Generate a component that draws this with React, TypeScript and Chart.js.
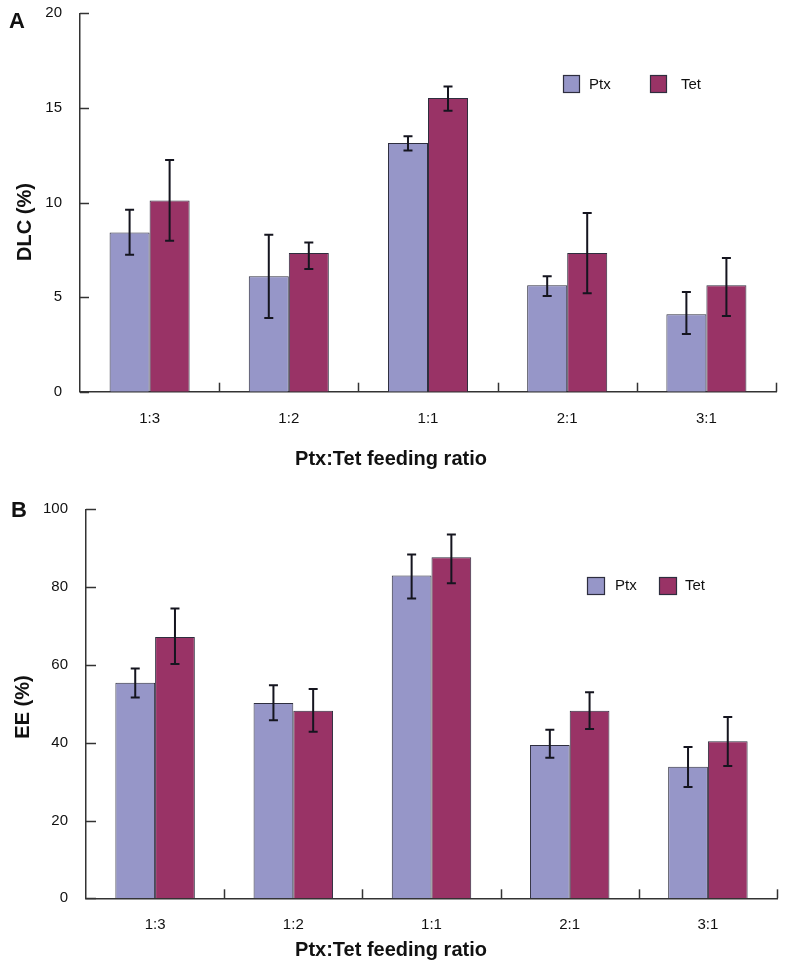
import React, { useEffect, useRef } from "react";
import { Chart, registerables } from "chart.js";

Chart.register(...registerables);

// ---- data ----
const categories = ["1:3", "1:2", "1:1", "2:1", "3:1"];
const seriesNames = ["Ptx", "Tet"];

// Panel A: DLC (%)
const dlcPtx = [8.42, 6.1, 13.15, 5.62, 4.1];
const dlcPtxLow = [7.24, 3.9, 12.75, 5.06, 3.05];
const dlcPtxHigh = [9.62, 8.3, 13.5, 6.1, 5.27];
const dlcTet = [10.1, 7.33, 15.52, 7.33, 5.62];
const dlcTetLow = [7.98, 6.49, 14.85, 5.2, 4.0];
const dlcTetHigh = [12.25, 7.88, 16.13, 9.44, 7.07];
const dlcTicks = [0, 5, 10, 15, 20];

// Panel B: EE (%)
const eePtx = [55.4, 50.2, 83.0, 39.4, 33.8];
const eePtxLow = [51.6, 45.8, 77.1, 36.1, 28.6];
const eePtxHigh = [59.1, 54.8, 88.4, 43.3, 38.9];
const eeTet = [67.2, 48.2, 87.7, 48.2, 40.4];
const eeTetLow = [60.2, 42.8, 81.0, 43.5, 34.0];
const eeTetHigh = [74.5, 53.8, 93.5, 53.0, 46.6];
const eeTicks = [0, 20, 40, 60, 80, 100];

const PTX_COLOR = "#9696c8";
const TET_COLOR = "#993366";
const EDGE = "#2e2e3e";
const FONT = "Arial, 'Liberation Sans', Helvetica, sans-serif";

type PanelCfg = {
  width: number;
  height: number;
  plotLeft: number;
  plotRight: number;
  plotTop: number;
  plotBottom: number;
  yTicks: number[];
  tickFont: number;
  catFont: number;
  yTickPad: number;
  xTickPad: number;
  yTickLen: number;
  xTickLen: number;
  yTitle: string;
  yTitlePos: [number, number];
  xTitle: string;
  xTitlePos: [number, number];
  letter: string;
  letterPos: [number, number];
  legendBoxes: [number, number][];
  legendText: [number, number][];
  legendBox: [number, number];
  legendFont: number;
  values: number[][];
  lows: number[][];
  highs: number[][];
};

function makeChart(canvas: HTMLCanvasElement, cfg: PanelCfg) {
  const colors = [PTX_COLOR, TET_COLOR];
  const decor = {
    id: "decor",
    afterDatasetsDraw(chart: any) {
      const ctx = chart.ctx;
      const ys = chart.scales.y;
      const xs = chart.scales.x;
      const area = chart.chartArea;
      ctx.save();
      // error bars
      ctx.strokeStyle = "#15151f";
      ctx.lineWidth = 2;
      chart.data.datasets.forEach((ds: any, di: number) => {
        const meta = chart.getDatasetMeta(di);
        meta.data.forEach((el: any, i: number) => {
          const x = el.x;
          const yl = ys.getPixelForValue(cfg.lows[di][i]);
          const yh = ys.getPixelForValue(cfg.highs[di][i]);
          ctx.beginPath();
          ctx.moveTo(x, yl);
          ctx.lineTo(x, yh);
          ctx.moveTo(x - 4.5, yl);
          ctx.lineTo(x + 4.5, yl);
          ctx.moveTo(x - 4.5, yh);
          ctx.lineTo(x + 4.5, yh);
          ctx.stroke();
        });
      });
      // y ticks (inward)
      ctx.strokeStyle = "#333";
      ctx.lineWidth = 1.5;
      cfg.yTicks.forEach((v) => {
        const y = Math.round(ys.getPixelForValue(v)) + 0.5;
        ctx.beginPath();
        ctx.moveTo(area.left, y);
        ctx.lineTo(area.left + cfg.yTickLen, y);
        ctx.stroke();
      });
      // x category boundary ticks (inward)
      for (let i = 0; i < categories.length; i++) {
        let x;
        if (i < categories.length - 1) {
          x = (xs.getPixelForValue(i) + xs.getPixelForValue(i + 1)) / 2;
        } else {
          x = area.right;
        }
        x = Math.round(x) + 0.5;
        ctx.beginPath();
        ctx.moveTo(x, area.bottom);
        ctx.lineTo(x, area.bottom - cfg.xTickLen);
        ctx.stroke();
      }
      // legend
      ctx.font = `${cfg.legendFont}px ${FONT}`;
      ctx.textBaseline = "middle";
      ctx.textAlign = "left";
      seriesNames.forEach((name, i) => {
        const [bx, by] = cfg.legendBoxes[i];
        ctx.fillStyle = colors[i];
        ctx.fillRect(bx, by, cfg.legendBox[0], cfg.legendBox[1]);
        ctx.strokeStyle = EDGE;
        ctx.lineWidth = 1.2;
        ctx.strokeRect(bx + 0.5, by + 0.5, cfg.legendBox[0], cfg.legendBox[1]);
        ctx.fillStyle = "#111";
        const [tx, ty] = cfg.legendText[i];
        ctx.fillText(name, tx, ty);
      });
      // titles
      ctx.fillStyle = "#111";
      ctx.font = `bold 20px ${FONT}`;
      ctx.textAlign = "center";
      ctx.textBaseline = "middle";
      ctx.fillText(cfg.xTitle, cfg.xTitlePos[0], cfg.xTitlePos[1]);
      ctx.save();
      ctx.translate(cfg.yTitlePos[0], cfg.yTitlePos[1]);
      ctx.rotate(-Math.PI / 2);
      ctx.fillText(cfg.yTitle, 0, 0);
      ctx.restore();
      ctx.font = `bold 22px ${FONT}`;
      ctx.textAlign = "left";
      ctx.textBaseline = "alphabetic";
      ctx.fillText(cfg.letter, cfg.letterPos[0], cfg.letterPos[1]);
      ctx.restore();
    },
  };

  return new Chart(canvas, {
    type: "bar",
    data: {
      labels: categories,
      datasets: seriesNames.map((name, i) => ({
        label: name,
        data: cfg.values[i],
        backgroundColor: colors[i],
        borderColor: EDGE,
        borderWidth: 1,
        categoryPercentage: 0.575,
        barPercentage: 1,
      })),
    },
    options: {
      responsive: false,
      animation: false,
      devicePixelRatio: 1,
      layout: {
        padding: {
          left: 0,
          right: cfg.width - cfg.plotRight,
          top: cfg.plotTop,
          bottom: 0,
        },
      },
      plugins: {
        legend: { display: false },
        tooltip: { enabled: false },
        title: { display: false },
      },
      scales: {
        x: {
          grid: { display: false, drawTicks: false },
          border: { display: true, color: "#333", width: 1.5 },
          ticks: {
            color: "#111",
            padding: cfg.xTickPad,
            font: { family: FONT, size: cfg.catFont },
            maxRotation: 0,
          },
          afterFit: (s: any) => {
            s.height = cfg.height - cfg.plotBottom;
            s.paddingLeft = 0;
            s.paddingRight = 0;
            s.paddingTop = 0;
            s.paddingBottom = 0;
          },
        },
        y: {
          min: cfg.yTicks[0],
          max: cfg.yTicks[cfg.yTicks.length - 1],
          grid: { display: false, drawTicks: false },
          border: { display: true, color: "#333", width: 1.5 },
          ticks: {
            stepSize: cfg.yTicks[1] - cfg.yTicks[0],
            color: "#111",
            padding: cfg.yTickPad,
            font: { family: FONT, size: cfg.tickFont },
          },
          afterFit: (s: any) => {
            s.width = cfg.plotLeft;
            s.paddingLeft = 0;
            s.paddingRight = 0;
            s.paddingTop = 0;
            s.paddingBottom = 0;
          },
        },
      },
    },
    plugins: [decor],
  });
}

const panelA: PanelCfg = {
  width: 785,
  height: 480,
  plotLeft: 80,
  plotRight: 776,
  plotTop: 13.3,
  plotBottom: 391.7,
  yTicks: dlcTicks,
  tickFont: 15,
  catFont: 15,
  yTickPad: 18,
  xTickPad: 18,
  yTickLen: 9,
  xTickLen: 9,
  yTitle: "DLC (%)",
  yTitlePos: [25, 222],
  xTitle: "Ptx:Tet feeding ratio",
  xTitlePos: [391, 459],
  letter: "A",
  letterPos: [9, 28],
  legendBoxes: [
    [563, 75],
    [650, 75],
  ],
  legendText: [
    [589, 85],
    [681, 85],
  ],
  legendBox: [16, 17],
  legendFont: 15,
  values: [dlcPtx, dlcTet],
  lows: [dlcPtxLow, dlcTetLow],
  highs: [dlcPtxHigh, dlcTetHigh],
};

const panelB: PanelCfg = {
  width: 785,
  height: 493,
  plotLeft: 86,
  plotRight: 777,
  plotTop: 29.3,
  plotBottom: 418.3,
  yTicks: eeTicks,
  tickFont: 15,
  catFont: 15,
  yTickPad: 18,
  xTickPad: 18,
  yTickLen: 10,
  xTickLen: 9,
  yTitle: "EE (%)",
  yTitlePos: [23, 227],
  xTitle: "Ptx:Tet feeding ratio",
  xTitlePos: [391, 470],
  letter: "B",
  letterPos: [11, 37],
  legendBoxes: [
    [587, 97],
    [659, 97],
  ],
  legendText: [
    [615, 106],
    [685, 106],
  ],
  legendBox: [17, 17],
  legendFont: 15,
  values: [eePtx, eeTet],
  lows: [eePtxLow, eeTetLow],
  highs: [eePtxHigh, eeTetHigh],
};

function Panel({ cfg, top }: { cfg: PanelCfg; top: number }) {
  const ref = useRef<HTMLCanvasElement>(null);
  useEffect(() => {
    if (!ref.current) return;
    const c = makeChart(ref.current, cfg);
    return () => c.destroy();
  }, [cfg]);
  return (
    <div style={{ position: "absolute", left: 0, top, width: cfg.width, height: cfg.height }}>
      <canvas ref={ref} width={cfg.width} height={cfg.height} style={{ display: "block" }} />
    </div>
  );
}

export default function App() {
  return (
    <div
      style={{
        position: "fixed",
        left: 0,
        top: 0,
        width: 785,
        height: 973,
        background: "#fff",
        overflow: "hidden",
      }}
    >
      <Panel cfg={panelA} top={0} />
      <Panel cfg={panelB} top={480} />
    </div>
  );
}
